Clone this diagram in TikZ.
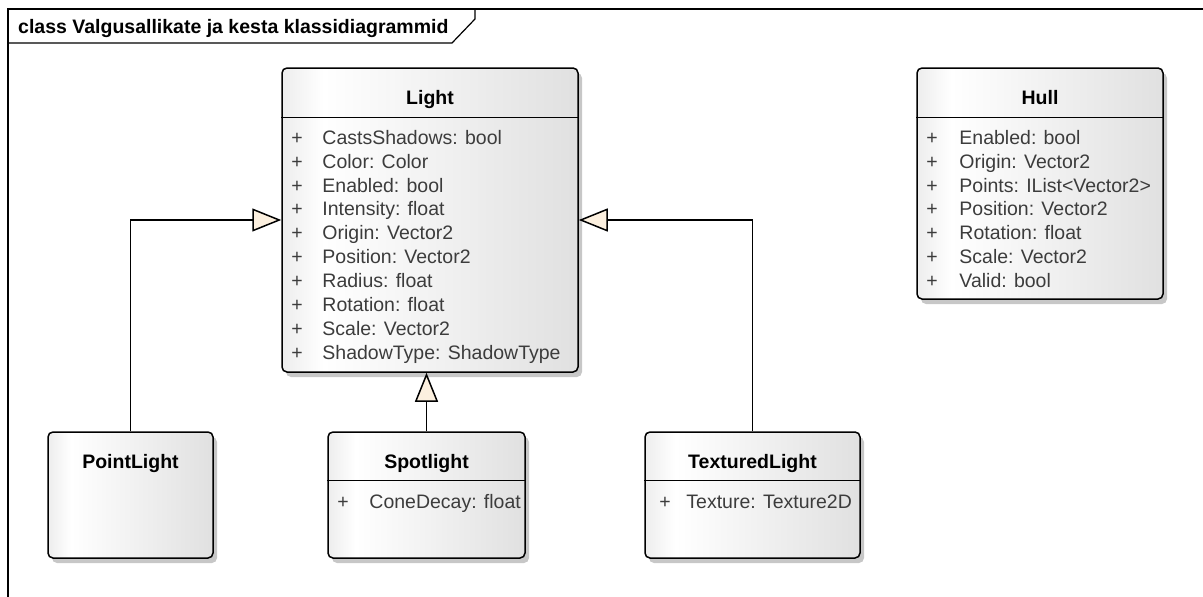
\documentclass[tikz,border=0pt]{standalone}
\usepackage{fontspec}
\setmainfont{Liberation Sans}
\usepackage{xcolor}
\usetikzlibrary{arrows.meta, calc, shadows, positioning}

\definecolor{tipfill}{HTML}{FCF0DF}
\definecolor{attrgray}{HTML}{3C3C3C}
\pgfdeclarehorizontalshading{classfill}{100bp}{color(0bp)=(gray!14); color(25bp)=(gray!14); color(32bp)=(white); color(75bp)=(gray!24); color(100bp)=(gray!24)}

\tikzset{
    classbox/.style={draw, line width=1.5pt, rounded corners=5pt, inner sep=0pt,
        shade, shading=classfill,
        drop shadow={shadow xshift=4pt, shadow yshift=-5pt, fill=black!22, opacity=1}},
    classname/.style={font=\fontsize{19.5}{23}\selectfont\bfseries, anchor=base, inner sep=0pt},
    attr/.style={font=\fontsize{19.5}{23}\selectfont, text=attrgray, anchor=base west, inner sep=0pt},
    inherit/.style={line width=1.5pt, -{Triangle[length=29pt, width=23pt, fill=tipfill]}},
}

\begin{document}
\begin{tikzpicture}[x=1pt, y=-1pt]
    \useasboundingbox (0,0) rectangle (1203,597);

    % diagram frame
    \draw[line width=1.2pt] (8,597) -- (8,9) -- (1203,9);
    \draw[line width=1.2pt] (8,43) -- (452,43) -- (475,19) -- (475,9);
    \node[anchor=base west, inner sep=0pt, font=\fontsize{19.5}{23}\selectfont\bfseries] (frame-title) at (18,34) {class Valgusallikate ja kesta klassidiagrammid};

    % classes
    \node[classbox, minimum width=296, minimum height=304] (light) at (430,220) {};
    \node[classbox, minimum width=246, minimum height=231] (hull) at (1040,183.5) {};
    \node[classbox, minimum width=165, minimum height=126] (pointlight) at (130.5,495) {};
    \node[classbox, minimum width=197, minimum height=126] (spotlight) at (426.5,495) {};
    \node[classbox, minimum width=215, minimum height=126] (texturedlight) at (752.5,495) {};

    \draw[line width=1.5pt] ($(light.north west)+(0,50)$) -- ($(light.north east)+(0,50)$);
    \draw[line width=1.5pt] ($(hull.north west)+(0,50)$) -- ($(hull.north east)+(0,50)$);
    \draw[line width=1.5pt] ($(spotlight.north west)+(0,49)$) -- ($(spotlight.north east)+(0,49)$);
    \draw[line width=1.5pt] ($(texturedlight.north west)+(0,49)$) -- ($(texturedlight.north east)+(0,49)$);

    \node[classname] (light-name) at ($(light.north)+(0,37)$) {Light};
    \node[classname] (hull-name) at ($(hull.north)+(0,37)$) {Hull};
    \node[classname] (pointlight-name) at ($(pointlight.north)+(0,37)$) {PointLight};
    \node[classname] (spotlight-name) at ($(spotlight.north)+(0,37)$) {Spotlight};
    \node[classname] (texturedlight-name) at ($(texturedlight.north)+(0,37)$) {TexturedLight};

    % attributes
    \foreach \a [count=\i] in {CastsShadows: bool, Color: Color, Enabled: bool, Intensity: float, Origin: Vector2, Position: Vector2, Radius: float, Rotation: float, Scale: Vector2, ShadowType: ShadowType} {
        \pgfmathsetmacro{\ry}{77+23.9*(\i-1)}
        \node[attr] (light-p\i) at ($(light.north west)+(10,\ry)$) {+};
        \node[attr] (light-a\i) at ($(light.north west)+(41,\ry)$) {\a};
    }
    \foreach \a [count=\i] in {Enabled: bool, Origin: Vector2, Points: IList<Vector2>, Position: Vector2, Rotation: float, Scale: Vector2, Valid: bool} {
        \pgfmathsetmacro{\ry}{77+23.9*(\i-1)}
        \node[attr] (hull-p\i) at ($(hull.north west)+(10,\ry)$) {+};
        \node[attr] (hull-a\i) at ($(hull.north west)+(43,\ry)$) {\a};
    }
    \node[attr] (spotlight-p1) at ($(spotlight.north west)+(10,77.5)$) {+};
    \node[attr] (spotlight-a1) at ($(spotlight.north west)+(42,77.5)$) {ConeDecay: float};
    \node[attr] (texturedlight-p1) at ($(texturedlight.north west)+(15,77.5)$) {+};
    \node[attr] (texturedlight-a1) at ($(texturedlight.north west)+(42,77.5)$) {Texture: Texture2D};

    % generalizations
    \draw[inherit] (pointlight.north) |- (light.west);
    \draw[inherit] (spotlight.north) -- (spotlight.north |- light.south);
    \draw[inherit] (texturedlight.north) |- (light.east);
\end{tikzpicture}
\end{document}
